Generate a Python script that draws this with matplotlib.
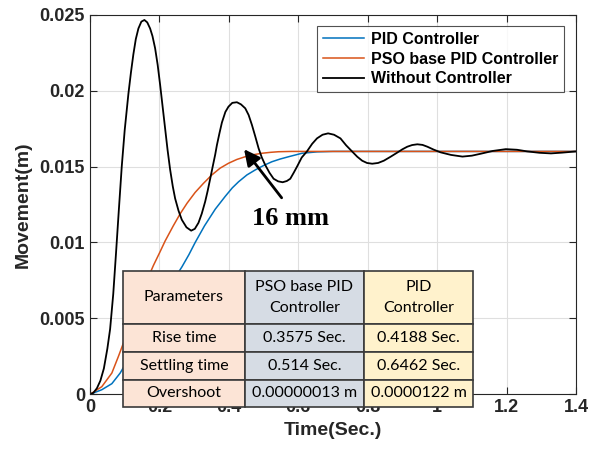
import matplotlib
matplotlib.use('Agg')
import matplotlib.pyplot as plt

# step responses (time in s, movement in m)
t_black = [0, 0.01, 0.02, 0.03, 0.04, 0.05, 0.058, 0.067, 0.075, 0.083,
           0.0915, 0.1, 0.1107, 0.118, 0.125, 0.132, 0.1395, 0.148, 0.1568, 0.165,
           0.1732, 0.18, 0.1876, 0.195, 0.202, 0.209, 0.2165, 0.2235, 0.2309, 0.2385,
           0.2453, 0.255, 0.2645, 0.278, 0.2915, 0.302, 0.3126, 0.322, 0.3319, 0.339,
           0.3463, 0.3535, 0.3608, 0.3655, 0.373, 0.38, 0.39, 0.399, 0.41, 0.4233,
           0.435, 0.4473, 0.457, 0.4666, 0.476, 0.4858, 0.495, 0.505, 0.517, 0.529,
           0.542, 0.555, 0.567, 0.577, 0.587, 0.5965, 0.61, 0.625, 0.64, 0.654,
           0.67, 0.686, 0.703, 0.7215, 0.738, 0.755, 0.77, 0.784, 0.798, 0.813,
           0.83, 0.8466, 0.866, 0.885, 0.9, 0.914, 0.928, 0.943, 0.958, 0.972,
           0.99, 1.01, 1.04, 1.073, 1.1, 1.126, 1.16, 1.198, 1.23, 1.26,
           1.295, 1.328, 1.36, 1.4]
y_black = [0, 0.0001, 0.0004, 0.0009, 0.0017, 0.0030, 0.0043, 0.0066, 0.0093, 0.0121,
           0.0150, 0.0174, 0.0198, 0.0212, 0.0224, 0.0234, 0.0241, 0.02455, 0.02466, 0.0245,
           0.0241, 0.0236, 0.0228, 0.0217, 0.0204, 0.0190, 0.0175, 0.0161, 0.0148, 0.0137,
           0.0129, 0.0121, 0.0115, 0.0110, 0.01078, 0.0109, 0.0113, 0.0119, 0.0127, 0.0134,
           0.0142, 0.0150, 0.0158, 0.0164, 0.0172, 0.0179, 0.0186, 0.01895, 0.0192, 0.01924,
           0.0191, 0.01884, 0.0184, 0.01774, 0.0170, 0.0162, 0.0156, 0.0151, 0.0146, 0.0142,
           0.01403, 0.01397, 0.01405, 0.0142, 0.0146, 0.0150, 0.0156, 0.0160, 0.0165, 0.01686,
           0.0171, 0.01719, 0.0171, 0.01686, 0.0164, 0.0160, 0.01565, 0.01539, 0.01524, 0.01519,
           0.01524, 0.01539, 0.01565, 0.01592, 0.01614, 0.01631, 0.01642, 0.01647, 0.01643, 0.01631,
           0.01612, 0.01594, 0.01577, 0.01566, 0.01572, 0.01585, 0.01603, 0.01615, 0.01611, 0.0160,
           0.01591, 0.01587, 0.01592, 0.0160]

t_pso = [0, 0.034, 0.063, 0.082, 0.1, 0.12, 0.14, 0.16, 0.183, 0.2, 0.2165, 0.24,
         0.26, 0.28, 0.303, 0.327, 0.351, 0.375, 0.399, 0.423, 0.447, 0.47, 0.4955,
         0.52, 0.543, 0.58, 0.7, 1.4]
y_pso = [0, 0.0005, 0.0014, 0.0025, 0.0036, 0.0049, 0.0061, 0.0073, 0.0085, 0.0093, 0.0101, 0.0111,
         0.0119, 0.0126, 0.0133, 0.0139, 0.01445, 0.0149, 0.01522, 0.01547, 0.01565, 0.01578, 0.01588,
         0.01594, 0.01598, 0.0160, 0.0160, 0.0160]

t_pid = [0, 0.034, 0.063, 0.087, 0.12, 0.15, 0.18, 0.21, 0.24, 0.265, 0.285, 0.303,
         0.33, 0.361, 0.39, 0.41, 0.428, 0.452, 0.476, 0.5, 0.524, 0.548, 0.572,
         0.611, 0.654, 0.7, 1.4]
y_pid = [0, 0.0003, 0.0007, 0.0014, 0.0027, 0.0039, 0.0052, 0.0064, 0.0075, 0.0084, 0.0092, 0.0100,
         0.0111, 0.0122, 0.01305, 0.0136, 0.0140, 0.01445, 0.01478, 0.01507, 0.01532, 0.0155, 0.01565,
         0.01588, 0.01597, 0.0160, 0.0160]

xticks = [0, 0.2, 0.4, 0.6, 0.8, 1, 1.2, 1.4]
xticklabels = ['0', '0.2', '0.4', '0.6', '0.8', '1', '1.2', '1.4']
yticks = [0, 0.005, 0.01, 0.015, 0.02, 0.025]
yticklabels = ['0', '0.005', '0.01', '0.015', '0.02', '0.025']

table_rows = [['Parameters', 'PSO base PID\nController', 'PID\nController'],
              ['Rise time', '0.3575 Sec.', '0.4188 Sec.'],
              ['Settling time', '0.514 Sec.', '0.6462 Sec.'],
              ['Overshoot', '0.00000013 m', '0.0000122 m']]

plt.rcParams['font.family'] = ['Liberation Sans', 'DejaVu Sans']

fig = plt.figure(figsize=(5.92, 4.53), dpi=100)
ax = fig.add_axes([0.152, 0.1296, 0.8209, 0.8377])

ax.plot(t_pid, y_pid, color='#0072BD', lw=1.1, label='PID Controller')
ax.plot(t_pso, y_pso, color='#D95319', lw=1.1, label='PSO base PID Controller')
ax.plot(t_black, y_black, color='black', lw=1.3, label='Without Controller')

ax.set_xlim(0, 1.4)
ax.set_ylim(0, 0.025)
ax.set_xticks(xticks)
ax.set_xticklabels(xticklabels)
ax.set_yticks(yticks)
ax.set_yticklabels(yticklabels)
ax.grid(True, color='#dfdfdf', lw=0.8)
ax.set_axisbelow(True)
ax.tick_params(direction='in', length=5, top=True, right=True, labelsize=13,
               colors='#262626', width=0.8)
for lab in ax.get_xticklabels() + ax.get_yticklabels():
    lab.set_fontweight('bold')
for s in ax.spines.values():
    s.set_color('#262626')
    s.set_linewidth(0.8)

ax.set_xlabel('Time(Sec.)', fontsize=14, fontweight='bold', color='#262626', labelpad=4)
ax.set_ylabel('Movement(m)', fontsize=14, fontweight='bold', color='#262626', labelpad=6)

leg = ax.legend(loc='upper right', bbox_to_anchor=(0.975, 0.97), fancybox=False,
                prop={'size': 11.5, 'weight': 'bold'}, handlelength=2.6,
                labelspacing=0.3, borderpad=0.35, handletextpad=0.4, borderaxespad=0)
leg.get_frame().set_edgecolor('#262626')
leg.get_frame().set_linewidth(0.8)

# arrow and label
ax.annotate('', xy=(0.439, 0.01629), xytext=(0.557, 0.0128),
            arrowprops=dict(arrowstyle='-|>', color='black', lw=2, mutation_scale=24))
ax.text(0.577, 0.01155, '16 mm', fontsize=19, fontweight='bold',
        family='Liberation Serif', ha='center', va='center')

# table of results
colours = [['#FCE4D6', '#D6DCE4', '#FFF2CC']] * 4
tbl = ax.table(cellText=table_rows, cellColours=colours, cellLoc='center',
               colWidths=[122.3, 119, 109.3], bbox=[0.0673, -0.0327, 0.7214, 0.3576])
tbl.auto_set_font_size(False)
tbl.set_fontsize(11.5)
tbl.set_zorder(10)
tbl.set_clip_on(False)
heights = [53, 28, 28, 27]
for (r, c), cell in tbl.get_celld().items():
    cell.set_height(heights[r])
    cell.set_edgecolor('#3a3a3a')
    cell.set_linewidth(1.2)
    cell.set_clip_on(False)
    txt = cell.get_text()
    txt.set_fontfamily('Lato')
    txt.set_color('black')
    txt.set_linespacing(1.6)

fig.savefig('out.png', dpi=100)
